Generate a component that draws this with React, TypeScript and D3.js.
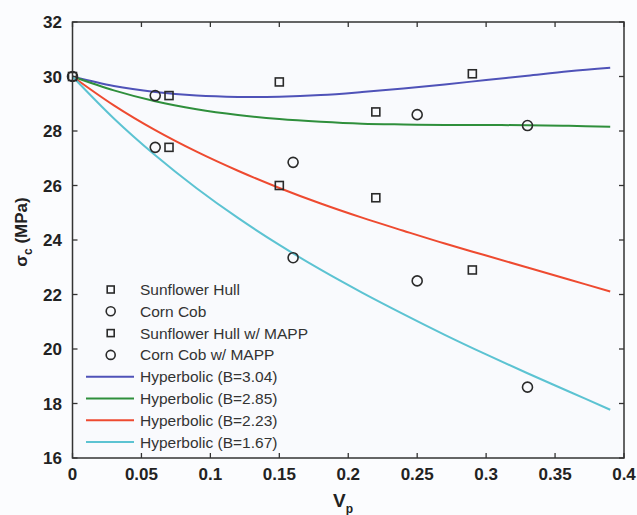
import React from "react";
import * as d3 from "d3";

// Measured data points
const sunflowerX = [0, 0.07, 0.15, 0.22, 0.29];
const sunflowerY = [30, 29.3, 29.8, 28.7, 30.1];
const cornX = [0, 0.06, 0.16, 0.25, 0.33];
const cornY = [30, 29.3, 26.85, 28.6, 28.2];
const sunMappX = [0.07, 0.15, 0.22, 0.29];
const sunMappY = [27.4, 26.0, 25.55, 22.9];
const cornMappX = [0.06, 0.16, 0.25, 0.33];
const cornMappY = [27.4, 23.35, 22.5, 18.6];

// Fitted curves
const curveX = [0, 0.03, 0.06, 0.09, 0.12, 0.15, 0.18, 0.21, 0.24, 0.27, 0.3, 0.33, 0.36, 0.39];
const curveB304 = [30, 29.65, 29.43, 29.3, 29.25, 29.26, 29.32, 29.43, 29.56, 29.71, 29.87, 30.03, 30.19, 30.32];
const curveB285 = [30, 29.49, 29.09, 28.8, 28.59, 28.44, 28.34, 28.27, 28.24, 28.22, 28.22, 28.21, 28.19, 28.16];
const curveB223 = [30, 28.94, 28.03, 27.24, 26.54, 25.91, 25.34, 24.82, 24.34, 23.87, 23.43, 22.99, 22.55, 22.11];
const curveB167 = [30, 28.46, 27.11, 25.9, 24.81, 23.82, 22.91, 22.07, 21.28, 20.52, 19.8, 19.11, 18.44, 17.77];

const xTicks = [0, 0.05, 0.1, 0.15, 0.2, 0.25, 0.3, 0.35, 0.4];
const xTickLabels = ["0", "0.05", "0.1", "0.15", "0.2", "0.25", "0.3", "0.35", "0.4"];
const yTicks = [16, 18, 20, 22, 24, 26, 28, 30, 32];

const markerLabels = ["Sunflower Hull", "Corn Cob", "Sunflower Hull w/ MAPP", "Corn Cob w/ MAPP"];
const markerShapes = ["square", "circle", "square", "circle"];
const lineLabels = ["Hyperbolic (B=3.04)", "Hyperbolic (B=2.85)", "Hyperbolic (B=2.23)", "Hyperbolic (B=1.67)"];
const lineColors = ["#4f52b8", "#2f8f3c", "#ee4a30", "#5cc3d2"];

export default function App() {
  const W = 637, H = 515;
  const L = 72.5, R = 624, T = 22, B = 458;
  const x = d3.scaleLinear().domain([0, 0.4]).range([L, R]);
  const y = d3.scaleLinear().domain([16, 32]).range([B, T]);
  const line = d3.line<[number, number]>().x(d => x(d[0])).y(d => y(d[1])).curve(d3.curveCatmullRom);
  const curves = [curveB304, curveB285, curveB223, curveB167];
  const font = "'Liberation Sans', Arial, Helvetica, sans-serif";
  const markerStroke = "#2a2a2a";

  const sq = (cx: number, cy: number, s: number, k: string) => (
    <rect key={k} x={cx - s / 2} y={cy - s / 2} width={s} height={s} fill="none" stroke={markerStroke} strokeWidth={1.6} />
  );
  const ci = (cx: number, cy: number, r: number, k: string) => (
    <circle key={k} cx={cx} cy={cy} r={r} fill="none" stroke={markerStroke} strokeWidth={1.6} />
  );

  const sets = [
    { xs: sunflowerX, ys: sunflowerY, shape: "square" },
    { xs: cornX, ys: cornY, shape: "circle" },
    { xs: sunMappX, ys: sunMappY, shape: "square" },
    { xs: cornMappX, ys: cornMappY, shape: "circle" },
  ];

  const legendX0 = 86, legendX1 = 134, legendMarkX = 110.7, legendTextX = 140;
  const legendY0 = 289.5, legendDy = 21.8;

  return (
    <svg width={W} height={H} style={{ position: "absolute", left: 0, top: 0, background: "#fbfcfe" }} fontFamily={font}>
      <rect x={L} y={T} width={R - L} height={B - T} fill="#f9fafd" />
      {/* curves */}
      {curves.map((c, i) => (
        <path key={"c" + i} d={line(curveX.map((v, j) => [v, c[j]]) as [number, number][]) || ""} fill="none" stroke={lineColors[i]} strokeWidth={2} />
      ))}
      {/* markers */}
      {sets.map((s, si) => s.xs.map((v, j) =>
        s.shape === "square" ? sq(x(v), y(s.ys[j]), 8, `m${si}-${j}`) : ci(x(v), y(s.ys[j]), 5, `m${si}-${j}`)
      ))}
      {/* axes box */}
      <rect x={L} y={T} width={R - L} height={B - T} fill="none" stroke="#333" strokeWidth={1.5} />
      {xTicks.map((t, i) => (
        <g key={"xt" + i}>
          <line x1={x(t)} x2={x(t)} y1={B} y2={B - 5} stroke="#333" strokeWidth={1.3} />
          <line x1={x(t)} x2={x(t)} y1={T} y2={T + 5} stroke="#333" strokeWidth={1.3} />
          <text x={x(t)} y={480} textAnchor="middle" fontSize={17} fontWeight="bold" fill="#222">{xTickLabels[i]}</text>
        </g>
      ))}
      {yTicks.map((t, i) => (
        <g key={"yt" + i}>
          <line x1={L} x2={L + 5} y1={y(t)} y2={y(t)} stroke="#333" strokeWidth={1.3} />
          <line x1={R} x2={R - 5} y1={y(t)} y2={y(t)} stroke="#333" strokeWidth={1.3} />
          <text x={62} y={y(t) + 6} textAnchor="end" fontSize={17} fontWeight="bold" fill="#222">{t}</text>
        </g>
      ))}
      {/* axis labels */}
      <text x={343} y={507} textAnchor="middle" fontSize={19} fontWeight="bold" fill="#222">
        V<tspan fontSize={12} dy={6}>p</tspan>
      </text>
      <text transform={`translate(27,${232}) rotate(-90)`} textAnchor="middle" fontSize={17} fontWeight="bold" fill="#222">
        σ<tspan fontSize={12} dy={5}>c</tspan><tspan dy={-5}> (MPa)</tspan>
      </text>
      {/* legend */}
      {markerLabels.map((lab, i) => (
        <g key={"lm" + i}>
          {markerShapes[i] === "square" ? sq(legendMarkX, legendY0 + i * legendDy, 7, "ls" + i) : ci(legendMarkX, legendY0 + i * legendDy, 4.5, "lc" + i)}
          <text x={legendTextX} y={legendY0 + i * legendDy + 5.5} fontSize={15.5} fill="#333">{lab}</text>
        </g>
      ))}
      {lineLabels.map((lab, i) => {
        const yy = legendY0 + (i + 4) * legendDy;
        return (
          <g key={"ll" + i}>
            <line x1={legendX0} x2={legendX1} y1={yy} y2={yy} stroke={lineColors[i]} strokeWidth={2} />
            <text x={legendTextX} y={yy + 5.5} fontSize={15.5} fill="#333">{lab}</text>
          </g>
        );
      })}
    </svg>
  );
}
